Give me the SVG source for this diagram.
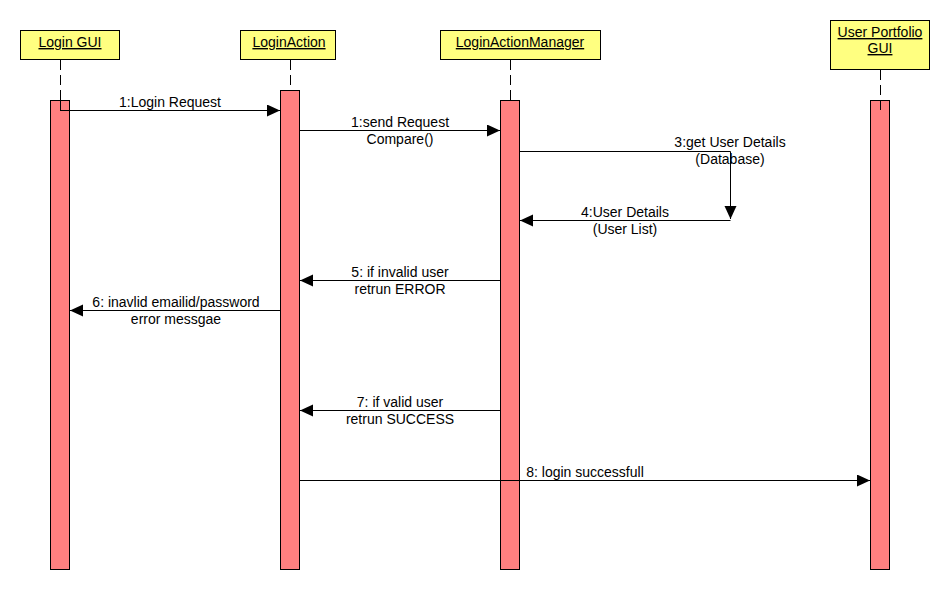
<svg xmlns="http://www.w3.org/2000/svg" width="950" height="590" viewBox="0 0 950 590">
<style>
  .hdr { fill: #FFFF80; stroke: #000; stroke-width: 1; }
  .act { fill: #FF8080; stroke: #000; stroke-width: 1; }
  .life { stroke: #000; stroke-width: 1; stroke-dasharray: 10,5; fill: none; }
  .msg { stroke: #000; stroke-width: 1; fill: none; marker-end: url(#arrow); }
  text { font-family: "Liberation Sans", Arial, sans-serif; font-size: 14px; fill: #000; }
  .ht { text-anchor: middle; text-decoration: underline; }
  .lbl { text-anchor: middle; }
</style>
<defs>
  <marker id="arrow" markerUnits="userSpaceOnUse" markerWidth="14" markerHeight="13" refX="13" refY="6" orient="auto">
    <path d="M0,0 L13,6 L0,12 z" fill="#000"/>
  </marker>
</defs>
<rect x="0" y="0" width="950" height="590" fill="#fff"/>

<g id="login-gui">
  <rect class="hdr" x="20.5" y="30.5" width="99" height="29"/>
  <text class="ht" x="70" y="47">Login GUI</text>
  <line class="life" x1="60.5" y1="60" x2="60.5" y2="100"/>
  <rect class="act" x="50.5" y="100.5" width="19" height="469"/>
  <line class="life" x1="60.5" y1="100" x2="60.5" y2="110"/>
</g>

<g id="login-action">
  <rect class="hdr" x="240.5" y="30.5" width="95" height="29"/>
  <text class="ht" x="289" y="47">LoginAction</text>
  <line class="life" x1="290.5" y1="60" x2="290.5" y2="90"/>
  <rect class="act" x="280.5" y="90.5" width="19" height="479"/>
</g>

<g id="login-action-manager">
  <rect class="hdr" x="440.5" y="30.5" width="160" height="29"/>
  <text class="ht" x="520" y="47">LoginActionManager</text>
  <line class="life" x1="510.5" y1="60" x2="510.5" y2="100"/>
  <rect class="act" x="500.5" y="100.5" width="19" height="469"/>
</g>

<g id="user-portfolio-gui">
  <rect class="hdr" x="830.5" y="20.5" width="99" height="49"/>
  <text class="ht" x="880" y="37">User Portfolio</text>
  <text class="ht" x="880" y="53">GUI</text>
  <line class="life" x1="880.5" y1="70" x2="880.5" y2="100"/>
  <rect class="act" x="870.5" y="100.5" width="19" height="469"/>
  <line class="life" x1="880.5" y1="100" x2="880.5" y2="110"/>
</g>

<g id="connectors">
  <line class="msg" x1="60" y1="110.5" x2="280" y2="110.5"/>
  <line class="msg" x1="300" y1="130.5" x2="500" y2="130.5"/>
  <polyline class="msg" points="520,151.5 730.5,151.5 730.5,219"/>
  <line class="msg" x1="730.5" y1="220.5" x2="520" y2="220.5"/>
  <line class="msg" x1="500" y1="280.5" x2="300" y2="280.5"/>
  <line class="msg" x1="280" y1="310.5" x2="70" y2="310.5"/>
  <line class="msg" x1="500" y1="410.5" x2="300" y2="410.5"/>
  <line class="msg" x1="300" y1="480.5" x2="870" y2="480.5"/>
</g>

<g id="labels">
  <text class="lbl" x="170" y="107">1:Login Request</text>
  <text class="lbl" x="400" y="127">1:send Request</text>
  <text class="lbl" x="400" y="144">Compare()</text>
  <text class="lbl" x="730" y="147">3:get User Details</text>
  <text class="lbl" x="730" y="164">(Database)</text>
  <text class="lbl" x="625" y="217">4:User Details</text>
  <text class="lbl" x="625" y="234">(User List)</text>
  <text class="lbl" x="400" y="277">5: if invalid user</text>
  <text class="lbl" x="400" y="294">retrun ERROR</text>
  <text class="lbl" x="176" y="307">6: inavlid emailid/password</text>
  <text class="lbl" x="176" y="324">error messgae</text>
  <text class="lbl" x="400" y="407">7: if valid user</text>
  <text class="lbl" x="400" y="424">retrun SUCCESS</text>
  <text class="lbl" x="585" y="477">8: login successfull</text>
</g>
</svg>
